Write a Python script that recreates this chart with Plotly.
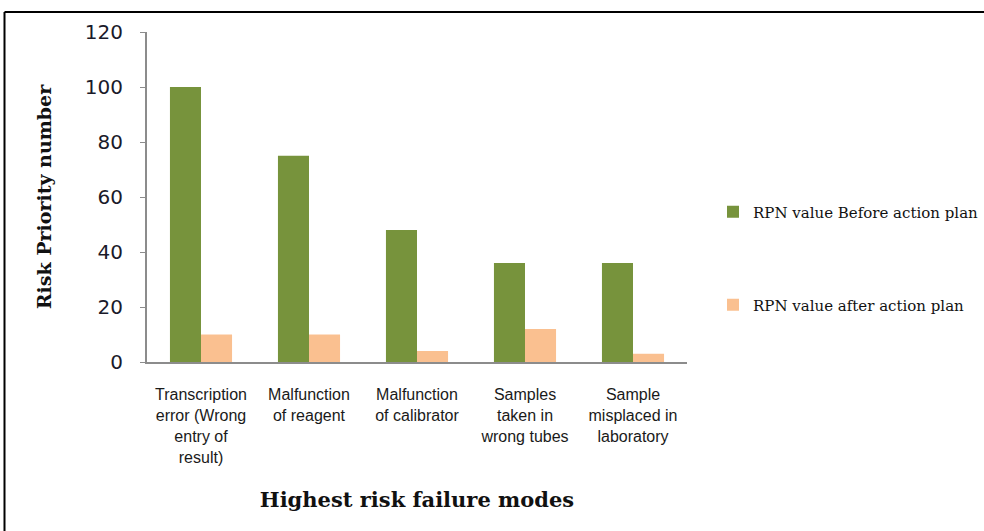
import plotly.graph_objects as go

categories = [
    "Transcription<br>error (Wrong<br>entry of<br>result)",
    "Malfunction<br>of reagent",
    "Malfunction<br>of calibrator",
    "Samples<br>taken in<br>wrong tubes",
    "Sample<br>misplaced in<br>laboratory",
]
rpn_before = [100, 75, 48, 36, 36]
rpn_after = [10, 10, 4, 12, 3]
y_ticks = [0, 20, 40, 60, 80, 100, 120]

W, H = 984, 531
L, R, T, B = 147, 297, 32, 169
pw, ph = W - L - R, H - T - B

def px(x):
    return (x - L) / pw

def py(y):
    return (H - B - y) / ph

fig = go.Figure()
fig.add_trace(go.Bar(x=categories, y=rpn_before, name="RPN value Before action plan",
                     marker=dict(color="#77933C", line=dict(width=0)),
                     legend="legend", showlegend=True))
fig.add_trace(go.Bar(x=categories, y=rpn_after, name="RPN value after action plan",
                     marker=dict(color="#FAC090", line=dict(width=0)),
                     legend="legend2", showlegend=True))

legend_font = dict(family="DejaVu Serif", size=15, color="#111")
fig.update_layout(
    width=W, height=H,
    showlegend=True,
    margin=dict(l=L, r=R, t=T, b=B, autoexpand=False),
    paper_bgcolor="white", plot_bgcolor="white",
    barmode="group", bargap=0.425, bargroupgap=0,
    legend=dict(x=px(713), y=py(212), xanchor="left", yanchor="middle",
                font=legend_font, bgcolor="rgba(0,0,0,0)", visible=True),
    legend2=dict(x=px(713), y=py(305), xanchor="left", yanchor="middle",
                 font=legend_font, bgcolor="rgba(0,0,0,0)", visible=True),
    xaxis=dict(
        showline=True, linecolor="#8c8c8c", linewidth=2,
        ticks="", showgrid=False,
        ticklabelstandoff=17,
        tickfont=dict(family="Liberation Sans", size=16, color="#1a1a1a"),
        tickangle=0, automargin=False,
        title=dict(text="<b>Highest risk failure modes</b>",
                   font=dict(family="DejaVu Serif", size=21, color="#111"),
                   standoff=28),
    ),
    yaxis=dict(
        range=[0, 120], tickvals=y_ticks,
        showline=True, linecolor="#8c8c8c", linewidth=2,
        ticks="outside", ticklen=5, tickcolor="#8c8c8c", tickwidth=1,
        ticklabelstandoff=13,
        showgrid=False, zeroline=False,
        tickfont=dict(family="DejaVu Sans", size=20, color="#1a1a2a"),
        automargin=False,
        title=dict(text="<b>Risk Priority number</b>",
                   font=dict(family="DejaVu Serif", size=19, color="#111"),
                   standoff=28),
    ),
    shapes=[
        dict(type="line", xref="paper", yref="paper", x0=px(4.5), x1=px(1000),
             y0=py(12), y1=py(12), line=dict(color="black", width=2)),
        dict(type="line", xref="paper", yref="paper", x0=px(4.5), x1=px(4.5),
             y0=py(12), y1=py(560), line=dict(color="black", width=2)),
    ],
)

fig.write_html("out.html", config={"displayModeBar": False},
               post_script="document.body.style.margin='0';")
